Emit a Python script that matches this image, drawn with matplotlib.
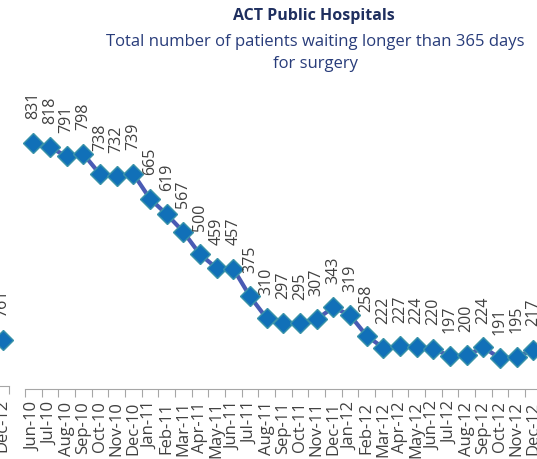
import matplotlib as mpl
import matplotlib.pyplot as plt
import numpy as np

mpl.rcParams.update({
    "font.family": ["Open Sans", "DejaVu Sans"],
    "font.size": 11,
    "axes.linewidth": 0.8,
})

# main chart data
months = ["Jun-10", "Jul-10", "Aug-10", "Sep-10", "Oct-10", "Nov-10", "Dec-10",
          "Jan-11", "Feb-11", "Mar-11", "Apr-11", "May-11", "Jun-11", "Jul-11",
          "Aug-11", "Sep-11", "Oct-11", "Nov-11", "Dec-11", "Jan-12", "Feb-12",
          "Mar-12", "Apr-12", "May-12", "Jun-12", "Jul-12", "Aug-12", "Sep-12",
          "Oct-12", "Nov-12", "Dec-12"]
waiting = [831, 818, 791, 798, 738, 732, 739, 665, 619, 567, 500, 459, 457, 375,
           310, 297, 295, 307, 343, 319, 258, 222, 227, 224, 220, 197, 200, 224,
           191, 195, 217]

# sliver of the neighbouring chart on the left edge
left_months = ["Dec-12"]
left_values = [761]

LINE = "#4A5BB4"
MFACE = "#1170B8"
MEDGE = "#3A93A8"
AXIS = "#A6A6A6"
TXT = "#404040"

W, H = 537, 459
fig = plt.figure(figsize=(W / 100, H / 100), dpi=100, facecolor="white")


def style_axis(ax, n, labels):
    for s in ["top", "right", "left"]:
        ax.spines[s].set_visible(False)
    ax.spines["bottom"].set_color(AXIS)
    ax.set_yticks([])
    ax.set_xticks(np.arange(n + 1) - 0.5)
    ax.set_xticklabels([])
    ax.tick_params(axis="x", which="major", length=6, color=AXIS, width=0.8)
    ax.set_xticks(np.arange(n), minor=True)
    ax.set_xticklabels(labels, minor=True, rotation=90, color=TXT, fontsize=12)
    ax.tick_params(axis="x", which="minor", length=0, pad=9)
    ax.set_xlim(-0.5, n - 0.5)


def draw_series(ax, vals):
    x = np.arange(len(vals))
    ax.plot(x, vals, color=LINE, lw=3, zorder=2, clip_on=False,
            marker="D", markersize=10.5, markerfacecolor=MFACE,
            markeredgecolor=MEDGE, markeredgewidth=1.0)
    for xi, v in zip(x, vals):
        ax.annotate(str(v), (xi, v), xytext=(0, 17), textcoords="offset points",
                    rotation=90, ha="center", va="bottom", color=TXT,
                    fontsize=11.5, annotation_clip=False)


# main axes (runs past the right edge of the picture)
ax = fig.add_axes([25 / W, (H - 389) / H, 516.7 / W, 269.3 / H])
style_axis(ax, len(months), months)
ax.set_ylim(100, 900)
draw_series(ax, waiting)

# left neighbour sliver
axl = fig.add_axes([-4 / W, (H - 386) / H, 13.3 / W, 60 / H])
style_axis(axl, len(left_months), left_months)
axl.set_ylim(700, 780)
draw_series(axl, left_values)

fig.text(0.585, 1 - 16 / H, "ACT Public Hospitals", ha="center", va="center",
         fontsize=11.5, fontweight="bold", color="#1F2F5F")
fig.text(0.587, 1 - 53 / H,
         "Total number of patients waiting longer than 365 days\nfor surgery",
         ha="center", va="center", fontsize=12, color="#283C7A",
         linespacing=1.5)

fig.savefig("out.png", dpi=100, facecolor="white")
